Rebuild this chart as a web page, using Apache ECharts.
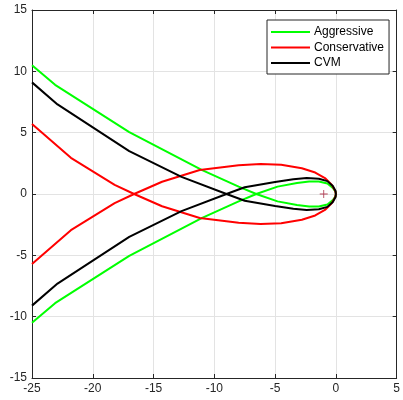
<!DOCTYPE html>
<html>
<head>
<meta charset="utf-8">
<script src="https://cdn.jsdelivr.net/npm/echarts@6/dist/echarts.min.js"></script>
<style>
  html, body { margin: 0; padding: 0; background: #fff; }
  #chart { width: 403px; height: 400px; }
</style>
</head>
<body>
<div id="chart"></div>
<script>
// Nyquist-style loci
const aggX = [-25, -23.1, -17.0, -11.0, -8.0, -6.55, -4.8, -3.2, -2.2, -1.4, -0.7, -0.25, -0.03, 0,
              -0.03, -0.25, -0.7, -1.4, -2.2, -3.2, -4.8, -6.55, -8.0, -11.0, -17.0, -23.1, -25]
const aggY = [10.5, 8.9, 5.05, 1.95, 0.6, 0, -0.6, -0.9, -1.02, -1.02, -0.85, -0.5, -0.2, 0,
              0.2, 0.5, 0.85, 1.02, 1.02, 0.9, 0.6, 0, -0.6, -1.95, -5.05, -8.9, -10.5]

const conX = [-25, -21.8, -18.2, -16.6, -14.3, -11.2, -8.0, -6.2, -4.5, -2.8, -1.7, -0.9, -0.35, -0.05, 0,
              -0.05, -0.35, -0.9, -1.7, -2.8, -4.5, -6.2, -8.0, -11.2, -14.3, -16.6, -18.2, -21.8, -25]
const conY = [5.7, 2.95, 0.75, 0, -1.0, -1.95, -2.35, -2.45, -2.38, -2.1, -1.75, -1.3, -0.75, -0.25, 0,
              0.25, 0.75, 1.3, 1.75, 2.1, 2.38, 2.45, 2.35, 1.95, 1.0, 0, -0.75, -2.95, -5.7]

const cvmX = [-25, -22.9, -17.0, -12.7, -9.0, -7.5, -5.0, -3.5, -2.4, -1.4, -0.7, -0.25, -0.03, 0,
              -0.03, -0.25, -0.7, -1.4, -2.4, -3.5, -5.0, -7.5, -9.0, -12.7, -17.0, -22.9, -25]
const cvmY = [9.1, 7.3, 3.5, 1.4, 0, -0.55, -0.98, -1.2, -1.3, -1.25, -1.05, -0.65, -0.25, 0,
              0.25, 0.65, 1.05, 1.25, 1.3, 1.2, 0.98, 0.55, 0, -1.4, -3.5, -7.3, -9.1]

const markPt = [[-1, 0]]

const names = ['Aggressive', 'Conservative', 'CVM']
const colors = ['#00ff00', '#ff0000', '#000000']
const xs = [aggX, conX, cvmX]
const ys = [aggY, conY, cvmY]

const pairs = (x, y) => x.map((v, i) => [v, y[i]])
const axisCol = '#262626'
const font = 'Liberation Sans, Arial, sans-serif'
const plus = 'path://M4,0 H5 V4 H9 V5 H5 V9 H4 V5 H0 V4 H4 Z'

const chart = echarts.init(document.getElementById('chart'), null, { renderer: 'canvas' })

const baseX = {
  type: 'value', min: -25, max: 5, interval: 5,
  axisLine: { show: true, onZero: false, lineStyle: { color: axisCol, width: 1 } },
  axisTick: { show: true, inside: true, length: 4, lineStyle: { color: axisCol } },
}
const baseY = {
  type: 'value', min: -15, max: 15, interval: 5,
  axisLine: { show: true, onZero: false, lineStyle: { color: axisCol, width: 1 } },
  axisTick: { show: true, inside: true, length: 4, lineStyle: { color: axisCol } },
}

chart.setOption({
  backgroundColor: '#fff',
  animation: false,
  grid: { left: 32, right: 3, top: 10, bottom: 22, containLabel: false },
  xAxis: [
    { ...baseX, position: 'bottom',
      axisLabel: { color: axisCol, fontSize: 12, margin: 5, fontFamily: font },
      splitLine: { show: true, lineStyle: { color: '#e3e3e3', width: 1 } } },
    { ...baseX, position: 'top', axisLabel: { show: false }, splitLine: { show: false } },
  ],
  yAxis: [
    { ...baseY, position: 'left',
      axisLabel: { color: axisCol, fontSize: 12, margin: 5, fontFamily: font },
      splitLine: { show: true, lineStyle: { color: '#e3e3e3', width: 1 } } },
    { ...baseY, position: 'right', axisLabel: { show: false }, splitLine: { show: false } },
  ],
  legend: {
    data: names,
    orient: 'vertical', left: 267, top: 20,
    padding: [5, 5, 4, 4],
    icon: 'rect', itemWidth: 39, itemHeight: 2, itemGap: 1.5,
    backgroundColor: '#fff', borderColor: axisCol, borderWidth: 1, borderRadius: 0,
    textStyle: { color: '#000', fontSize: 12, fontFamily: font, lineHeight: 14, padding: [0, 0, 0, -1] },
  },
  series: [
    ...names.map((n, i) => ({
      name: n, type: 'line', data: pairs(xs[i], ys[i]),
      symbol: 'none', smooth: false,
      lineStyle: { color: colors[i], width: 2 },
      itemStyle: { color: colors[i] },
    })),
    { name: 'mark', type: 'scatter', data: markPt, symbol: plus, symbolSize: 8,
      itemStyle: { color: '#A2142F' }, z: 5 },
  ],
})
</script>
</body>
</html>
